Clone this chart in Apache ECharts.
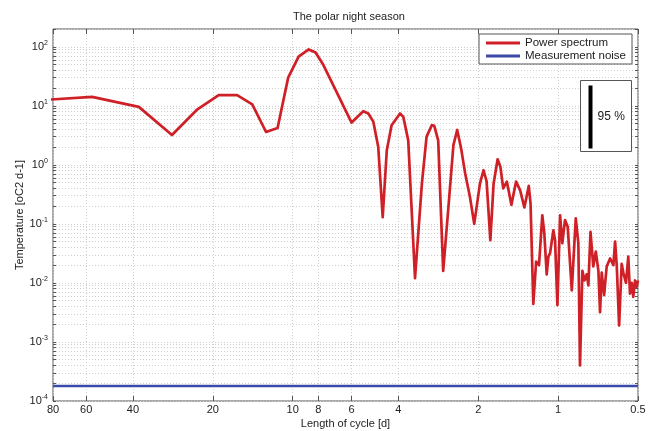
<!DOCTYPE html>
<html>
<head>
<meta charset="utf-8">
<title>The polar night season</title>
<script src="https://cdn.jsdelivr.net/npm/echarts/dist/echarts.min.js"></script>
<style>
    html, body { margin: 0; padding: 0; background: #fff; }
    #chart { width: 652px; height: 431px; }
</style>
</head>
<body>
<div id="chart"></div>
<script>
// length of cycle [d] and power of the spectrum
const periods = [114, 57, 38, 28.5, 23, 19, 16.2, 14.2, 12.6, 11.4, 10.4, 9.5, 8.7, 8.2, 7.66, 6.0, 5.42, 5.19, 4.97, 4.76,
    4.58, 4.42, 4.24, 3.94, 3.83, 3.67, 3.46, 3.26, 3.13, 2.99, 2.93, 2.83, 2.71, 2.59, 2.48, 2.40, 2.32, 2.24, 2.15, 2.07,
    1.97, 1.91, 1.86, 1.80, 1.75, 1.69, 1.65, 1.61, 1.56, 1.50, 1.44, 1.39, 1.34, 1.29, 1.27, 1.24, 1.21, 1.19, 1.18, 1.147,
    1.127, 1.104, 1.088, 1.072, 1.042, 1.027, 1.006, 0.983, 0.964, 0.942, 0.920, 0.907, 0.888, 0.858, 0.839, 0.827, 0.810, 0.796, 0.780, 0.769,
    0.755, 0.737, 0.721, 0.705, 0.695, 0.685, 0.671, 0.656, 0.637, 0.619, 0.610, 0.601, 0.589, 0.576, 0.568, 0.555, 0.544, 0.536, 0.528, 0.521,
    0.513, 0.506, 0.5];
const power = [11.6, 14.2, 9.6, 3.2, 8.5, 15.2, 15.2, 10.6, 3.6, 4.2, 30, 68, 90, 80, 49, 5.2, 8.1, 7.4, 5.4, 2.0,
    0.13, 1.77, 4.7, 7.4, 6.5, 2.6, 0.012, 0.48, 3.0, 4.7, 4.6, 2.6, 0.016, 0.19, 2.16, 3.9, 1.9, 0.72, 0.29, 0.10,
    0.48, 0.81, 0.53, 0.053, 0.48, 1.24, 0.93, 0.40, 0.52, 0.21, 0.52, 0.37, 0.19, 0.44, 0.22, 0.0044, 0.023, 0.024, 0.020, 0.14,
    0.069, 0.014, 0.028, 0.032, 0.078, 0.053, 0.0042, 0.14, 0.047, 0.116, 0.089, 0.089, 0.0075, 0.124, 0.047, 0.0004, 0.016, 0.011, 0.014, 0.0091,
    0.073, 0.019, 0.034, 0.016, 0.0032, 0.015, 0.0062, 0.019, 0.026, 0.020, 0.050, 0.019, 0.0019, 0.021, 0.015, 0.010, 0.028, 0.0066, 0.010, 0.0058,
    0.011, 0.0086, 0.011];

// measurement noise level
const noisePeriods = [80, 0.5];
const noiseValues = [0.00018, 0.00018];

// axis ticks
const xTicks = [80, 60, 40, 20, 10, 8, 6, 4, 2, 1, 0.5];
const yDecades = [0.0001, 0.001, 0.01, 0.1, 1, 10, 100];
const yMinorSteps = [2, 3, 4, 5, 6, 7, 8, 9];

const FONT = 'Liberation Sans';
const TEXT = '#222';

const yTicks = [];
yDecades.forEach((d) => {
    yTicks.push(d);
    yMinorSteps.forEach((m) => {
        const v = +(d * m).toPrecision(3);
        if (v <= 200) yTicks.push(v);
    });
});

const gridLine = {show: true, lineStyle: {color: '#cfcfcf', type: [1, 2], width: 1}};

function pairs(xs, ys) {
    return xs.map((x, i) => [x, ys[i]]);
}

function xAxisOf(position, showLabel) {
    return {
        type: 'log',
        logBase: 10,
        min: 0.5,
        max: 80,
        inverse: true,
        position: position,
        name: showLabel ? 'Length of cycle [d]' : '',
        nameLocation: 'middle',
        nameGap: 17,
        nameMoveOverlap: false,
        nameTextStyle: {fontFamily: FONT, fontSize: 11, color: TEXT},
        axisLine: {show: false},
        axisTick: {show: true, inside: true, length: 5, customValues: xTicks, lineStyle: {color: '#555'}},
        axisLabel: {show: showLabel, customValues: xTicks, margin: 3, fontFamily: FONT, fontSize: 11, color: TEXT},
        splitLine: showLabel ? gridLine : {show: false},
    };
}

function yAxisOf(position, showLabel) {
    return {
        type: 'log',
        logBase: 10,
        min: 0.0001,
        max: 200,
        position: position,
        name: showLabel ? 'Temperature [oC2 d-1]' : '',
        nameLocation: 'middle',
        nameGap: 28,
        nameMoveOverlap: false,
        nameTextStyle: {fontFamily: FONT, fontSize: 11, color: TEXT},
        axisLine: {show: false},
        axisTick: {show: true, inside: true, length: 3, customValues: yTicks, lineStyle: {color: '#555'}},
        axisLabel: {
            show: showLabel,
            customValues: yDecades,
            margin: 5,
            formatter: (v) => '{b|10}{s|' + Math.round(Math.log10(v)) + '}',
            rich: {
                b: {fontFamily: FONT, fontSize: 11, color: TEXT, lineHeight: 14},
                s: {fontFamily: FONT, fontSize: 7, color: TEXT, verticalAlign: 'top', lineHeight: 14, padding: [0, 0, 8, 0]},
            },
        },
        splitLine: showLabel ? gridLine : {show: false},
    };
}

const chart = echarts.init(document.getElementById('chart'));
chart.setOption({
    animation: false,
    backgroundColor: '#fff',
    title: {
        text: 'The polar night season',
        left: 288,
        top: 6,
        textStyle: {fontFamily: FONT, fontSize: 11, fontWeight: 'normal', color: TEXT},
    },
    grid: {
        left: 53,
        right: 14,
        top: 29,
        bottom: 30,
        outerBoundsMode: 'none',
        show: true,
        borderColor: '#555',
        borderWidth: 1,
        backgroundColor: '#fff',
    },
    legend: {
        orient: 'vertical',
        right: 20,
        top: 34,
        padding: [3, 6, 2, 7],
        itemGap: 1,
        itemWidth: 34,
        itemHeight: 3,
        icon: 'rect',
        backgroundColor: '#fff',
        borderColor: '#555',
        borderWidth: 1,
        textStyle: {fontFamily: FONT, fontSize: 11.5, color: TEXT},
        data: ['Power spectrum', 'Measurement noise'],
    },
    xAxis: [xAxisOf('bottom', true), xAxisOf('top', false)],
    yAxis: [yAxisOf('left', true), yAxisOf('right', false)],
    series: [
        {
            name: 'Measurement noise',
            type: 'line',
            symbol: 'none',
            data: pairs(noisePeriods, noiseValues),
            lineStyle: {color: '#3a4aa8', width: 2.5},
            itemStyle: {color: '#3a4aa8'},
            z: 3,
        },
        {
            name: 'Power spectrum',
            type: 'line',
            symbol: 'none',
            data: pairs(periods, power),
            lineStyle: {color: '#cf2027', width: 2.7, join: 'round'},
            itemStyle: {color: '#cf2027'},
            clip: true,
            z: 4,
        },
    ],
    // confidence interval box
    graphic: [
        {
            type: 'group',
            right: 20,
            top: 80,
            children: [
                {type: 'rect', z: 100, shape: {x: 0, y: 0, width: 51, height: 71}, style: {fill: '#fff', stroke: '#555', lineWidth: 1}},
                {type: 'rect', z: 101, shape: {x: 8, y: 5, width: 4, height: 63}, style: {fill: '#000', stroke: null}},
                {type: 'text', z: 101, x: 17, y: 36, style: {text: '95 %', fontFamily: FONT, fontSize: 12, fill: TEXT, verticalAlign: 'middle'}},
            ],
        },
    ],
});
</script>
</body>
</html>
